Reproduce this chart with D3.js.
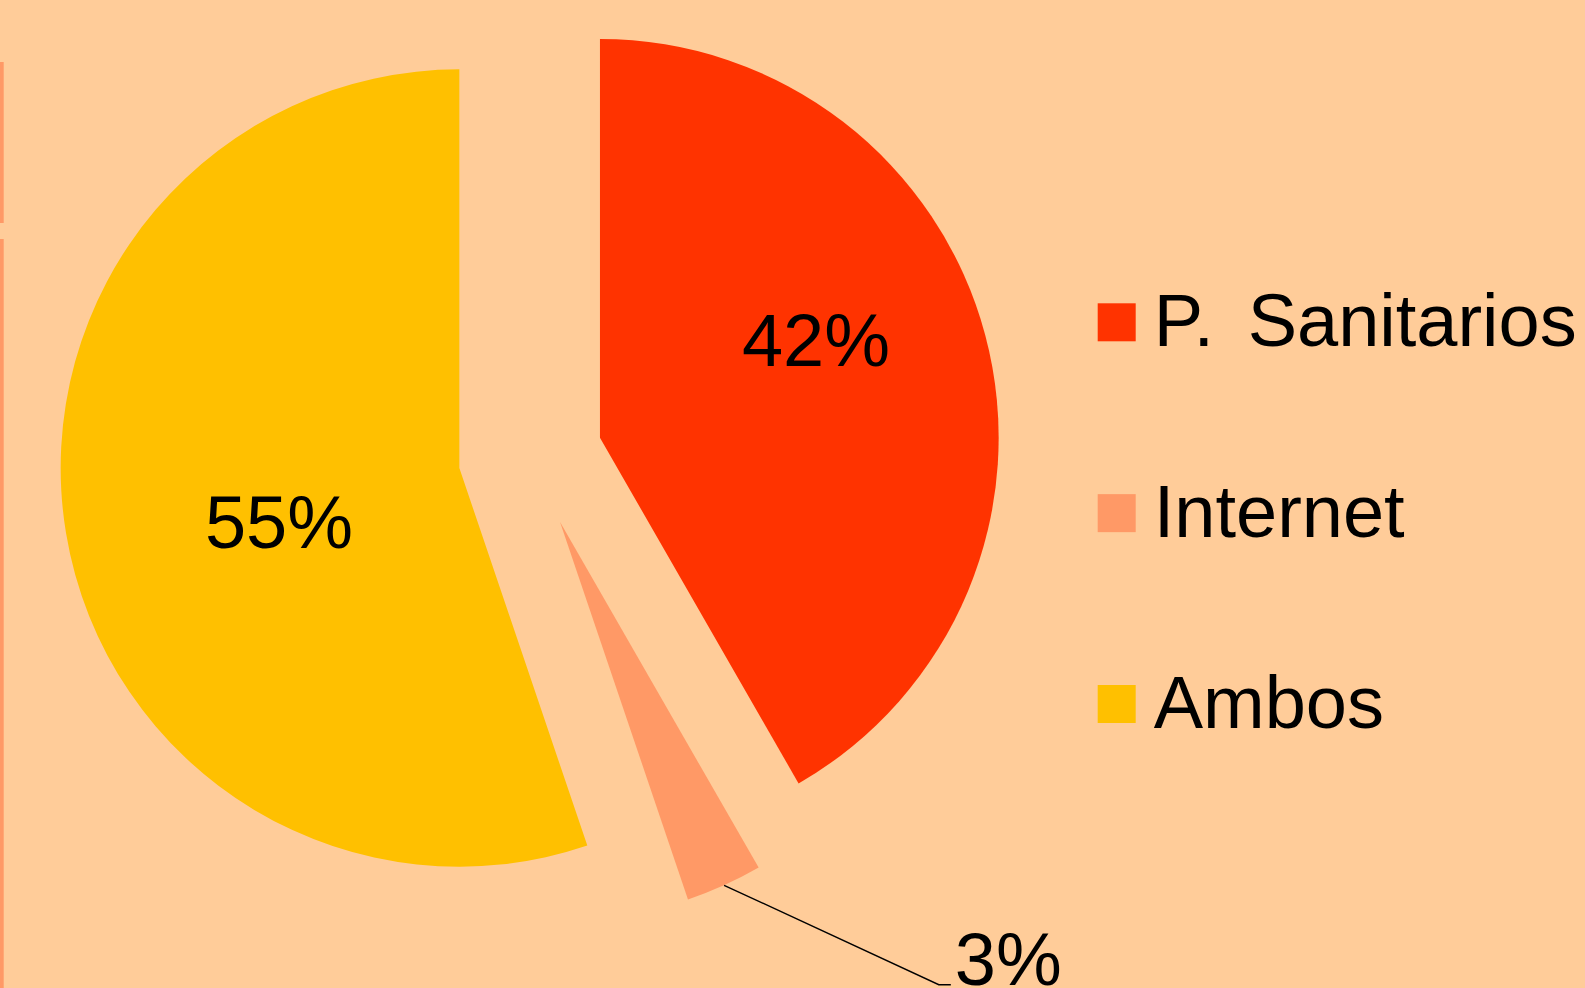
<!DOCTYPE html>
<html>
<head>
<meta charset="utf-8">
<script src="https://cdn.jsdelivr.net/npm/d3@7"></script>
<style>
  body { margin: 0; background: #FFCC99; }
  svg { display: block; font-family: "Liberation Sans", Arial, sans-serif; }
</style>
</head>
<body>
<div id="chart"></div>
<script>
// data
var categories = ["P. Sanitarios", "Internet", "Ambos"];
var values = [41.7, 3.1, 55.2];
var colors = ["#FF3300", "#FF9966", "#FFC000"];

var width = 1585,
    height = 988;

var cx = 530.4, cy = 456.3;   // pie centre
var radius = 398.7;
var explode = 72;             // every slice is pulled out
var fontSize = 74;

// where the inside labels sit (fraction of radius, angle nudge in degrees)
var labelRadius = [0.595, 0.5, 0.472];
var labelNudge = [-9.5, 0, -7.2];

var formatPercent = d3.format(".0%");
var total = d3.sum(values);

var svg = d3.select("#chart")
    .append("svg")
    .attr("width", width)
    .attr("height", height);

svg.append("rect")
    .attr("width", width)
    .attr("height", height)
    .attr("fill", "#FFCC99");

// thin strips on the left edge of the slide
svg.append("rect").attr("x", 0).attr("y", 62).attr("width", 3.7).attr("height", 161).attr("fill", "#FF9966");
svg.append("rect").attr("x", 0).attr("y", 239).attr("width", 3.7).attr("height", height - 239).attr("fill", "#FF9966");

var pie = d3.pie()
    .sort(null)
    .value(d => d.value);

var data = categories.map((c, i) => ({ name: c, value: values[i], color: colors[i], i: i }));
var arcs = pie(data);

var arc = d3.arc()
    .innerRadius(0)
    .outerRadius(radius);

function mid(d) { return (d.startAngle + d.endAngle) / 2; }
function polar(a, r) { return [Math.sin(a) * r, -Math.cos(a) * r]; }

var g = svg.append("g")
    .attr("transform", "translate(" + cx + "," + cy + ")");

var slice = g.selectAll("g.slice")
    .data(arcs)
    .join("g")
    .attr("class", "slice")
    .attr("transform", d => {
        var p = polar(mid(d), explode);
        return "translate(" + p[0] + "," + p[1] + ")";
    });

slice.append("path")
    .attr("d", arc)
    .attr("fill", d => d.data.color);

// big slices: label inside
slice.filter(d => d.data.value / total >= 0.05)
    .append("text")
    .attr("transform", d => {
        var i = d.data.i;
        var p = polar(mid(d) + labelNudge[i] * Math.PI / 180, radius * labelRadius[i]);
        return "translate(" + p[0] + "," + p[1] + ")";
    })
    .attr("text-anchor", "middle")
    .attr("dy", "0.358em")
    .attr("font-size", fontSize)
    .attr("fill", "#000")
    .text(d => formatPercent(d.data.value / total));

// small slices: label outside with leader line
var small = slice.filter(d => d.data.value / total < 0.05);

small.each(function (d) {
    var s = d3.select(this);
    var a = mid(d);
    var p0 = polar(a, radius);
    var p1 = polar(a - 15 * Math.PI / 180, radius * 1.5);
    var p2 = [p1[0] + 12, p1[1]];
    s.append("path")
        .attr("d", d3.line()([p0, p1, p2]))
        .attr("fill", "none")
        .attr("stroke", "#000")
        .attr("stroke-width", 1.4);
    s.append("text")
        .attr("x", p2[0] + 4)
        .attr("y", p2[1])
        .attr("font-size", fontSize)
        .attr("fill", "#000")
        .text(formatPercent(d.data.value / total));
});

// legend
var legend = svg.append("g")
    .attr("transform", "translate(1097.7,303.3)");

var item = legend.selectAll("g")
    .data(data)
    .join("g")
    .attr("transform", (d, i) => "translate(0," + i * 190.85 + ")");

item.append("rect")
    .attr("width", 38)
    .attr("height", 38)
    .attr("fill", d => d.color);

item.append("text")
    .attr("x", 56)
    .attr("y", 19)
    .attr("dy", "0.32em")
    .attr("font-size", fontSize)
    .attr("word-spacing", 13)
    .attr("fill", "#000")
    .text(d => d.name);
</script>
</body>
</html>
